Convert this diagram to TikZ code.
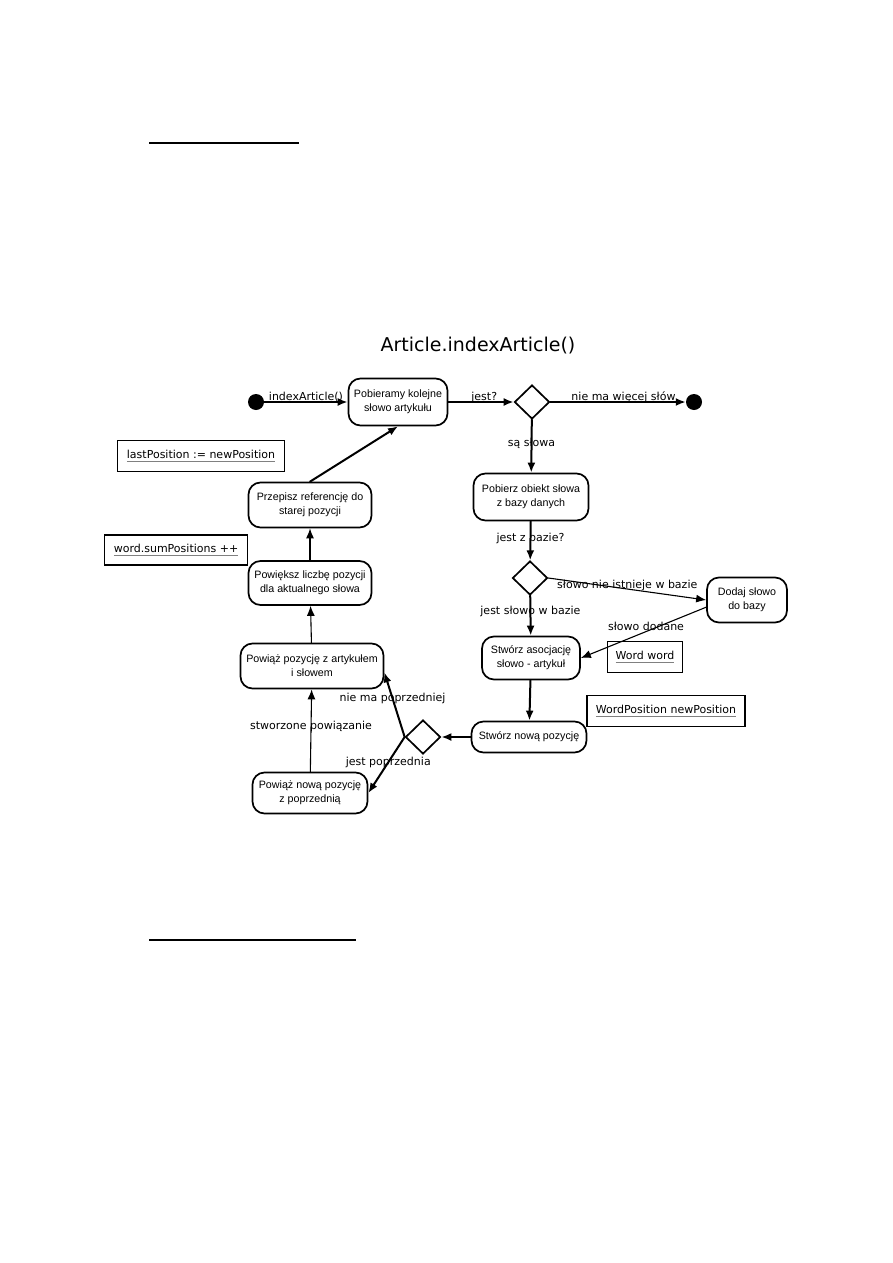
\documentclass[tikz,border=0pt]{standalone}
\usepackage{fontspec}
\setmainfont{DejaVu Sans}
\newfontfamily\policeboite{Liberation Sans}
\usetikzlibrary{arrows.meta, shapes.geometric}
\newcommand{\souligne}[1]{\setbox0\hbox{#1}\rlap{\textcolor{gray}{\rule[-3pt]{\wd0}{0.9pt}}}\box0}

\begin{document}
\begin{tikzpicture}[x=1pt,y=-1pt]
        \tikzset{
          boite/.style={
            draw,align=center,line width=1.7pt,inner sep=2pt,
            font=\policeboite\fontsize{10.7}{14}\selectfont,text=black,
          },
          boite coins ronds/.style={boite,rounded corners=12pt},
          losange/.style={draw,diamond,line width=1.7pt,minimum width=35pt,minimum height=34pt,inner sep=0pt},
          point/.style={circle,fill=black,minimum size=16pt,inner sep=0pt},
          note/.style={draw,line width=1.6pt,minimum height=31pt,inner sep=0pt,font=\fontsize{11}{13}\selectfont},
          etiquette/.style={font=\fontsize{11}{13}\selectfont,inner sep=0pt},
          fleche/.style={
            line cap=round,-{Latex[length=10pt,width=8pt]},line width=1.1pt,
          },
          grosse fleche/.style={fleche,line width=2pt},
          }
        \useasboundingbox (0,0) rectangle (893,1263);
        \draw[line width=1.2pt] (149,143) -- (299,143);
        \draw[line width=1.2pt] (149,940) -- (356,940);
        \node[font=\fontsize{19}{23}\selectfont, anchor=base] (titre) at (478,351) {Article.indexArticle()};

        \node[point] (s) at (256,402) {};
        \node[boite coins ronds, minimum width=99pt, minimum height=47pt] (a) at (398,402) {Pobieramy kolejne\\słowo artykułu};
        \node[losange] (d1) at (532,402) {};
        \node[point] (f) at (694,402) {};
        \node[boite coins ronds, minimum width=115pt, minimum height=47pt] (b) at (531,497) {Pobierz obiekt słowa\\z bazy danych};
        \node[losange] (d2) at (530,578) {};
        \node[boite coins ronds, minimum width=80pt, minimum height=45pt] (c) at (747,600) {Dodaj słowo\\do bazy};
        \node[boite coins ronds, minimum width=98pt, minimum height=43pt] (e) at (531,658) {Stwórz asocjację\\słowo - artykuł};
        \node[boite coins ronds, minimum width=115pt, minimum height=31pt] (g) at (529,737) {Stwórz nową pozycję};
        \node[losange] (d3) at (423,737) {};
        \node[boite coins ronds, minimum width=143pt, minimum height=45pt] (h) at (312,666) {Powiąż pozycję z artykułem\\i słowem};
        \node[boite coins ronds, minimum width=115pt, minimum height=41pt] (i) at (310,793) {Powiąż nową pozycję\\z poprzednią};
        \node[boite coins ronds, minimum width=123pt, minimum height=44pt] (j) at (310,583) {Powiększ liczbę pozycji\\dla aktualnego słowa};
        \node[boite coins ronds, minimum width=123pt, minimum height=45pt] (k) at (310,505) {Przepisz referencję do\\starej pozycji};

        \node[note, minimum width=167pt] (n1) at (201,456) {\souligne{lastPosition := newPosition}};
        \node[note, minimum width=143pt, minimum height=30pt] (n2) at (176,550) {\souligne{word.sumPositions ++}};
        \node[note, minimum width=75pt] (n3) at (645,657) {\souligne{Word word}};
        \node[note, minimum width=158pt] (n4) at (666,711) {\souligne{WordPosition newPosition}};

        \draw[grosse fleche] (s) -- (a) node[etiquette, midway, anchor=base, yshift=1.5pt] {indexArticle()};
        \draw[grosse fleche] (a) -- (d1) node[etiquette, pos=0.55, anchor=base, yshift=1.5pt] {jest?};
        \draw[grosse fleche] (d1) -- (f) node[etiquette, pos=0.54, anchor=base, yshift=1.5pt] {nie ma więcej słów};
        \draw[grosse fleche] (d1) -- (b) node[etiquette, pos=0.44] {są słowa};
        \draw[grosse fleche] (b) -- (d2) node[etiquette, pos=0.44] {jest z bazie?};
        \draw[fleche] (d2.east) -- (c.west) node[etiquette, midway, yshift=4pt] {słowo nie istnieje w bazie};
        \draw[fleche] (c.190) -- (e.east) node[etiquette, pos=0.48, yshift=5pt] {słowo dodane};
        \draw[grosse fleche] (d2) -- (e) node[etiquette, pos=0.4] {jest słowo w bazie};
        \draw[grosse fleche] (e) -- (g);
        \draw[grosse fleche] (g) -- (d3);
        \draw[grosse fleche] (d3.west) -- (h.-5) node[etiquette, pos=0.6] {nie ma poprzedniej};
        \draw[grosse fleche] (d3.west) -- (i.east) node[etiquette, pos=0.45] {jest poprzednia};
        \draw[fleche] (i) -- (h) node[etiquette, pos=0.55] {stworzone powiązanie};
        \draw[fleche] (h) -- (j);
        \draw[fleche] (j) -- (k);
        \draw[grosse fleche] (k.north) -- (a.south);
      \end{tikzpicture}
\end{document}
